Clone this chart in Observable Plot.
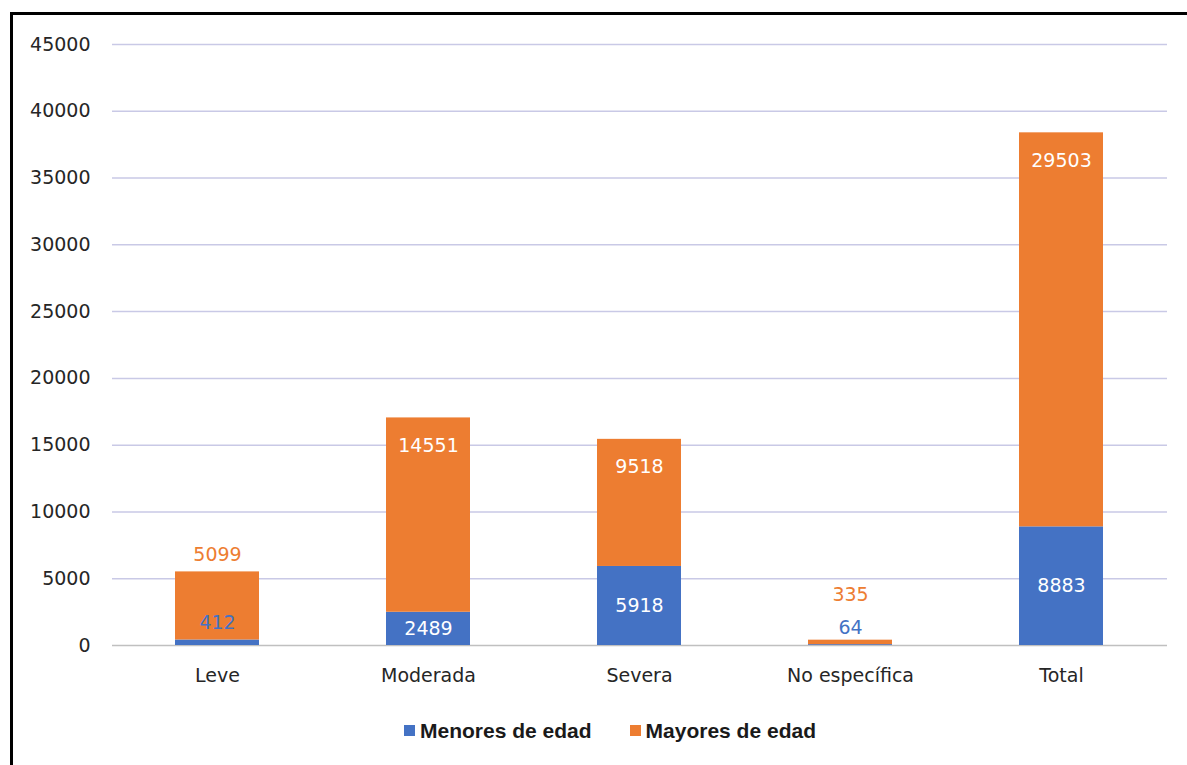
<!DOCTYPE html>
<html>
<head>
<meta charset="utf-8">
<script src="https://cdn.jsdelivr.net/npm/d3@7"></script>
<script src="https://cdn.jsdelivr.net/npm/@observablehq/plot@0.6"></script>
<style>
  html, body { margin: 0; padding: 0; background: #fff; }
  #wrap { position: relative; width: 1187px; height: 765px; overflow: hidden; font-family: "DejaVu Sans", sans-serif; }
  #frame { position: absolute; left: 10px; top: 12px; width: 1200px; height: 800px; border-left: 3px solid #000; border-top: 3px solid #000; box-sizing: border-box; }
  #chart { position: absolute; left: 0; top: 0; }
  #legend { position: absolute; left: 404px; top: 717px; font-family: "Liberation Sans", Arial, sans-serif; font-weight: bold; font-size: 21px; color: #1a1a1a; white-space: nowrap; }
  #legend span.item { display: inline-flex; align-items: center; margin-right: 38px; }
  #legend span.sw { display: inline-block; width: 11px; height: 11px; margin-right: 5px; }
</style>
</head>
<body>
<div id="wrap">
  <div id="frame"></div>
  <div id="chart"></div>
  <div id="legend"></div>
</div>
<script>
const categories = ["Leve", "Moderada", "Severa", "No específica", "Total"];
const menores = [412, 2489, 5918, 64, 8883];
const mayores = [5099, 14551, 9518, 335, 29503];
const seriesNames = ["Menores de edad", "Mayores de edad"];
const yTicks = [0, 5000, 10000, 15000, 20000, 25000, 30000, 35000, 40000, 45000];
const colors = ["#4472C4", "#ED7D31"];

const rows = [];
categories.forEach((c, i) => {
  rows.push({cat: c, serie: seriesNames[0], value: menores[i]});
  rows.push({cat: c, serie: seriesNames[1], value: mayores[i]});
});

// label tables derived from values
const menLabels = categories.map((c, i) => {
  const big = menores[i] > 1000;
  return {cat: c, y: big ? menores[i] / 2 : menores[i], text: String(menores[i]), big};
});
const mayLabels = categories.map((c, i) => {
  const big = mayores[i] > 6000;
  const top = menores[i] + mayores[i];
  const stacked = menores[i] <= 1000 && mayores[i] < 1000;
  return {cat: c, y: top, text: String(mayores[i]), big, stacked};
});

const fontSize = 19;
const plot = Plot.plot({
  width: 1187,
  height: 700,
  marginTop: 44,
  marginBottom: 55,
  marginLeft: 112,
  marginRight: 20,
  style: {fontFamily: "'DejaVu Sans', sans-serif", fontSize: fontSize + "px", color: "#262626", background: "transparent"},
  x: {domain: categories, paddingInner: 0.6, paddingOuter: 0.3, label: null, tickSize: 0, tickPadding: 23},
  y: {domain: [0, 45000], ticks: yTicks, label: null, tickSize: 0, tickPadding: 22, tickFormat: d => String(d)},
  color: {domain: seriesNames, range: colors},
  marks: [
    Plot.gridY(yTicks.filter(d => d > 0), {stroke: "#C9C9E6", strokeOpacity: 1, strokeWidth: 1.5}),
    Plot.ruleY([0], {stroke: "#C0C0C0", strokeWidth: 1.5}),
    Plot.barY(rows, Plot.stackY({x: "cat", y: "value", fill: "serie", order: seriesNames})),
    Plot.text(menLabels.filter(d => d.big), {x: "cat", y: "y", text: "text", fill: "#ffffff", fontSize: fontSize}),
    Plot.text(menLabels.filter(d => !d.big), {x: "cat", y: "y", text: "text", fill: colors[0], fontSize: fontSize, dy: -17}),
    Plot.text(mayLabels.filter(d => d.big), {x: "cat", y: "y", text: "text", fill: "#ffffff", fontSize: fontSize, dy: 28}),
    Plot.text(mayLabels.filter(d => !d.big && !d.stacked), {x: "cat", y: "y", text: "text", fill: colors[1], fontSize: fontSize, dy: -17}),
    Plot.text(mayLabels.filter(d => d.stacked), {x: "cat", y: "y", text: "text", fill: colors[1], fontSize: fontSize, dy: -45})
  ]
});
document.getElementById("chart").appendChild(plot);

const legend = document.getElementById("legend");
seriesNames.forEach((s, i) => {
  const item = document.createElement("span");
  item.className = "item";
  const sw = document.createElement("span");
  sw.className = "sw";
  sw.style.background = colors[i];
  item.appendChild(sw);
  item.appendChild(document.createTextNode(s));
  legend.appendChild(item);
});
</script>
</body>
</html>
